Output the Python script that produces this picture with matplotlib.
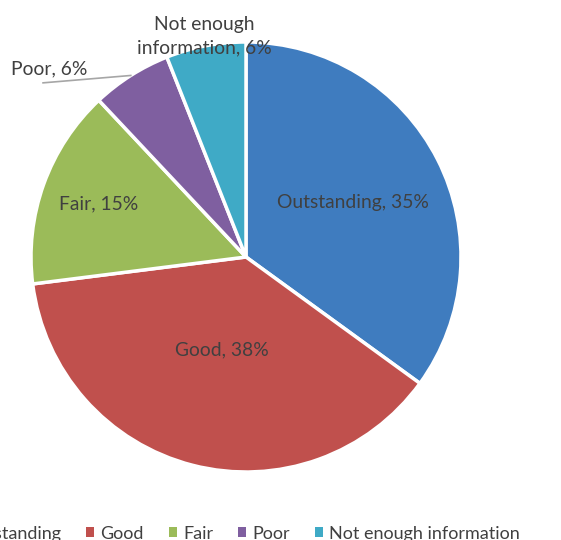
import numpy as np
import matplotlib
matplotlib.use("Agg")
import matplotlib.pyplot as plt
from matplotlib.patches import Patch

categories = ["Outstanding", "Good", "Fair", "Poor", "Not enough information"]
values = [35, 38, 15, 6, 6]
label_texts = ["Outstanding, 35%", "Good, 38%", "Fair, 15%", "Poor, 6%", "Not enough\ninformation, 6%"]
colors = ["#3F7CBF", "#C0504D", "#9BBB59", "#7F5FA0", "#3FAAC6"]

# label placement (radius factor along the wedge mid-angle)
label_r = [0.56, 0.445, 0.73, None, 1.045]

plt.rcParams['font.family'] = ['Lato', 'DejaVu Sans']
FS = 13.9
LFS = 13.0
TXT = "#404040"

fig = plt.figure(figsize=(5.61, 5.4), dpi=100)
W, H = 561, 540
cx, cy, R = 246, 257, 215
ax = fig.add_axes([(cx - R) / W, (H - cy - R) / H, 2 * R / W, 2 * R / H])

wedges, _ = ax.pie(values, colors=colors, startangle=90, counterclock=False,
                   radius=1.0,
                   wedgeprops=dict(edgecolor="white", linewidth=2.5))
ax.set_xlim(-1, 1)
ax.set_ylim(-1, 1)
ax.set_aspect("equal")
ax.axis("off")

for w, txt, r in zip(wedges, label_texts, label_r):
    mid = np.deg2rad((w.theta1 + w.theta2) / 2)
    if r is None:
        # outside label with leader line
        x0, y0 = np.cos(mid) * 1.0, np.sin(mid) * 1.0
        x1, y1 = -0.944, 0.81
        ax.plot([x0, x1], [y0, y1], color="#A6A6A6", lw=1.2, clip_on=False)
        ax.text(-0.917, 0.874, txt, ha="center", va="center", fontsize=FS,
                color=TXT, clip_on=False)
    else:
        ax.text(np.cos(mid) * r, np.sin(mid) * r, txt, ha="center", va="center",
                fontsize=FS, color=TXT, linespacing=1.42, clip_on=False)

handles = [Patch(facecolor=c, edgecolor="none") for c in colors]
fig.legend(handles, categories, loc="center", ncol=5,
           bbox_to_anchor=(0.418, 0.012), frameon=False, fontsize=LFS,
           labelcolor=TXT, handlelength=0.42, handleheight=0.42,
           handletextpad=0.35, columnspacing=1.4, borderpad=0)

fig.savefig("out.png", dpi=100)
